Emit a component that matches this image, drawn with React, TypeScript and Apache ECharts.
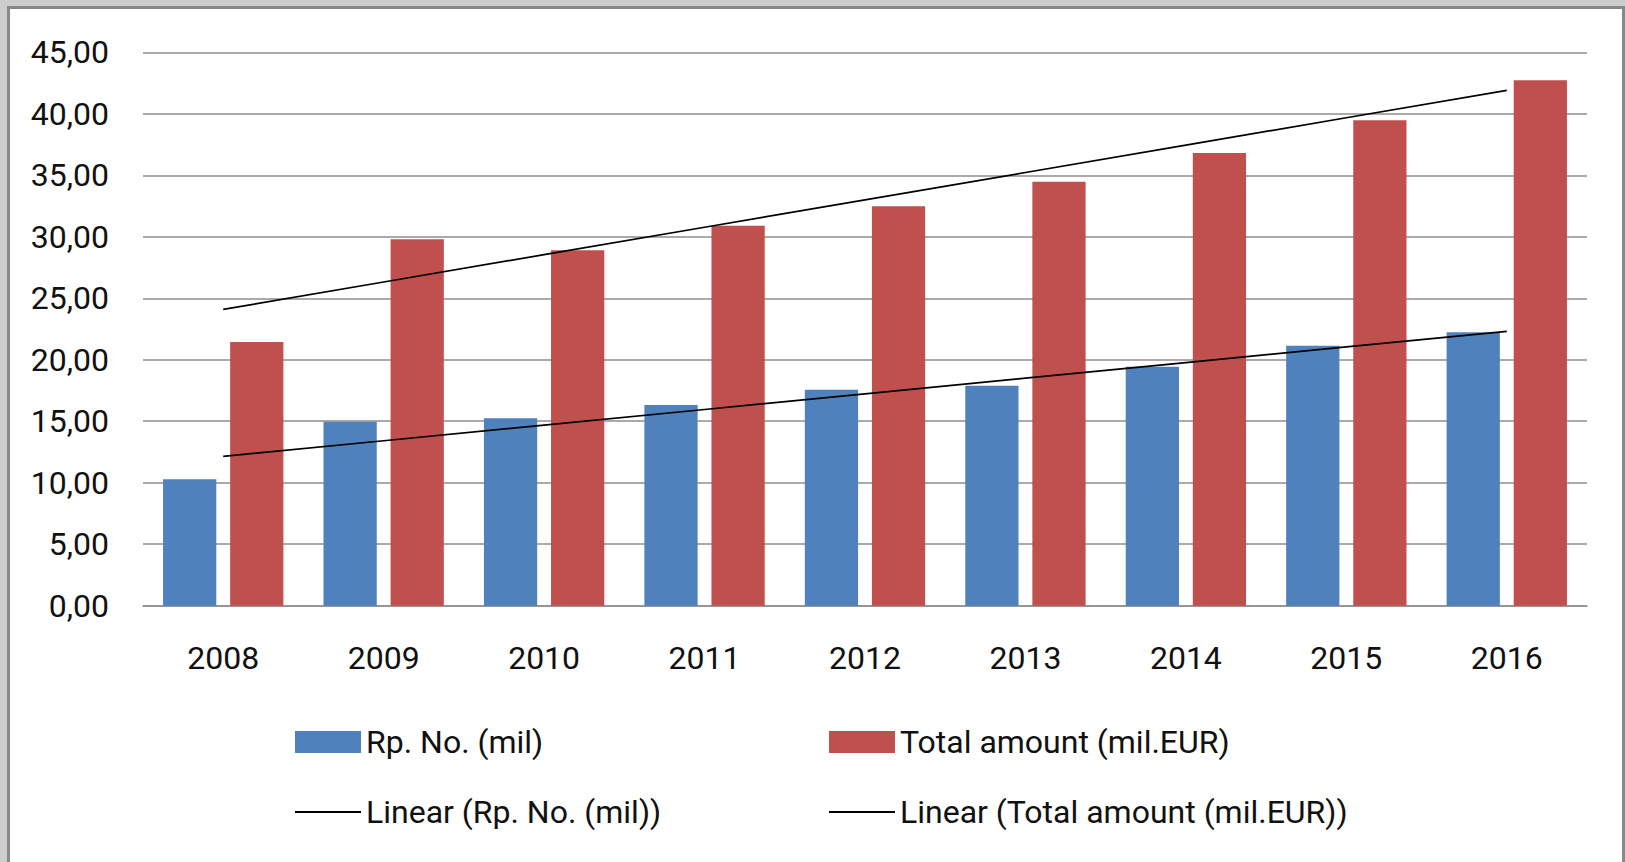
import React, { useEffect, useRef } from "react";
import * as echarts from "echarts";

const years = ["2008", "2009", "2010", "2011", "2012", "2013", "2014", "2015", "2016"];
const rpNo = [10.28, 14.96, 15.24, 16.32, 17.56, 17.89, 19.43, 21.14, 22.23];
const totalAmount = [21.44, 29.79, 28.9, 30.9, 32.48, 34.48, 36.81, 39.47, 42.72];
const yMin = 0;
const yMax = 45;
const yInterval = 5;

const nameRp = "Rp. No. (mil)";
const nameTotal = "Total amount (mil.EUR)";
const nameLinRp = "Linear (Rp. No. (mil))";
const nameLinTotal = "Linear (Total amount (mil.EUR))";

// Least-squares linear trendline (as Excel's "Linear" trendline) of a series
function linearTrend(values: number[]): number[] {
  const n = values.length;
  const xs = values.map((_, i) => i + 1);
  const mx = xs.reduce((a, b) => a + b, 0) / n;
  const my = values.reduce((a, b) => a + b, 0) / n;
  let sxy = 0;
  let sxx = 0;
  for (let i = 0; i < n; i++) {
    sxy += (xs[i] - mx) * (values[i] - my);
    sxx += (xs[i] - mx) * (xs[i] - mx);
  }
  const slope = sxy / sxx;
  const intercept = my - slope * mx;
  return xs.map((x) => +(intercept + slope * x).toFixed(4));
}

const FONT = "Roboto";
const FS = 32;
const GRID_COLOR = "#8e8e8e";

export default function App() {
  const ref = useRef<HTMLDivElement>(null);

  useEffect(() => {
    if (!ref.current) return;
    const chart = echarts.init(ref.current, null, { renderer: "svg" });
    const legendBase = {
      padding: 0,
      selectedMode: false,
      icon: "rect",
      itemWidth: 66,
      textStyle: { fontFamily: FONT, fontSize: FS, color: "#111" },
    };
    chart.setOption({
      animation: false,
      textStyle: { fontFamily: FONT },
      grid: { left: 143, top: 52.3, width: 1444, height: 553.4, containLabel: false },
      xAxis: {
        type: "category",
        data: years,
        axisLine: { show: true, lineStyle: { color: GRID_COLOR, width: 1.5 } },
        axisTick: { show: false },
        axisLabel: { margin: 36, fontFamily: FONT, fontSize: FS, color: "#111" },
      },
      yAxis: {
        type: "value",
        min: yMin,
        max: yMax,
        interval: yInterval,
        axisLine: { show: false },
        axisTick: { show: false },
        splitLine: { lineStyle: { color: GRID_COLOR, width: 1.5 } },
        axisLabel: {
          margin: 34,
          fontFamily: FONT,
          fontSize: FS,
          color: "#111",
          formatter: (v: number) => v.toFixed(2).replace(".", ","),
        },
      },
      legend: [
        { ...legendBase, data: [nameRp], left: 295, top: 726, itemHeight: 22 },
        { ...legendBase, data: [nameTotal], left: 829, top: 726, itemHeight: 22 },
        { ...legendBase, data: [nameLinRp], left: 295, top: 796, itemHeight: 2 },
        { ...legendBase, data: [nameLinTotal], left: 829, top: 796, itemHeight: 2 },
      ],
      series: [
        {
          name: nameRp,
          type: "bar",
          data: rpNo,
          barCategoryGap: "25%",
          barGap: "26%",
          itemStyle: { color: "#4f81bd" },
        },
        {
          name: nameTotal,
          type: "bar",
          data: totalAmount,
          barCategoryGap: "25%",
          barGap: "26%",
          itemStyle: { color: "#c0504d" },
        },
        {
          name: nameLinRp,
          type: "line",
          data: linearTrend(rpNo),
          symbol: "none",
          z: 5,
          itemStyle: { color: "#000" },
          lineStyle: { color: "#000", width: 1.7 },
        },
        {
          name: nameLinTotal,
          type: "line",
          data: linearTrend(totalAmount),
          symbol: "none",
          z: 5,
          itemStyle: { color: "#000" },
          lineStyle: { color: "#000", width: 1.7 },
        },
      ],
    });
    return () => chart.dispose();
  }, []);

  return (
    <div style={{ position: "absolute", left: 0, top: 0, width: 1625, height: 862, background: "#cdcdcd", overflow: "hidden" }}>
      <div
        style={{
          position: "absolute",
          left: 7,
          top: 6,
          width: 1618,
          height: 856,
          boxSizing: "border-box",
          background: "#ffffff",
          borderLeft: "3px solid #888888",
          borderTop: "3px solid #888888",
          borderRight: "3px solid #888888",
        }}
      />
      <div ref={ref} style={{ position: "absolute", left: 0, top: 0, width: 1625, height: 862 }} />
    </div>
  );
}
